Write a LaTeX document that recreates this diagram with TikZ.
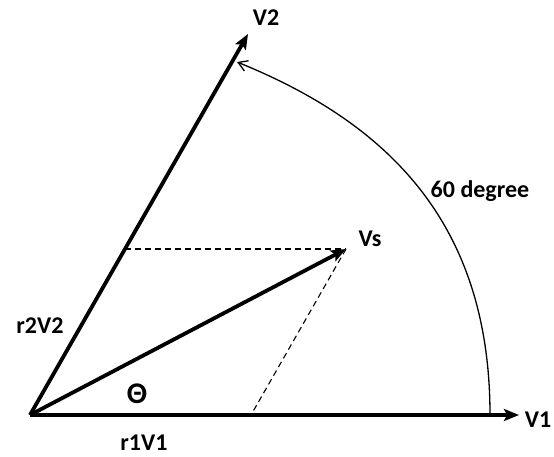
\documentclass[tikz,border=0pt]{standalone}
\usepackage{fontspec}
\setmainfont{Carlito}
\usetikzlibrary{arrows.meta}
\begin{document}
\begin{tikzpicture}[x=1pt,y=-1pt,
  vec/.style={line width=3.8pt,-{Stealth[length=15pt,width=12pt,inset=3pt]}},
  helper/.style={line width=1.1pt,dash pattern=on 6pt off 4pt},
  arcline/.style={line width=1.3pt,-{Straight Barb[length=9pt,width=11pt]}},
  lbl/.style={font=\bfseries\fontsize{24}{28}\selectfont,inner sep=0pt,anchor=base}]
\useasboundingbox (0,0) rectangle (554,457);
\coordinate (O) at (30,415);
\coordinate (A) at (519,415);
\coordinate (B) at (248,34);
\coordinate (S) at (346,249);
\coordinate (H) at (125,249);
\coordinate (F) at (251,415);
\coordinate (E0) at (490,415);
\coordinate (E1) at (237,62);
\draw[helper] (H) -- (S);
\draw[helper] (S) -- (F);
\draw[arcline] (E0) .. controls (490,225) and (390,124) .. (E1);
\draw[vec] (O) -- (A);
\draw[vec] (O) -- (B);
\draw[vec] (O) -- (S);
\node[lbl] (lv1) at (538,427) {V1};
\node[lbl] (lv2) at (266,26) {V2};
\node[lbl] (lvs) at (370,247) {Vs};
\node[lbl] (ldeg) at (480,197) {60 degree};
\node[lbl] (lr2) at (40,333) {r2V2};
\node[lbl,font=\bfseries\fontsize{30}{34}\selectfont] (lth) at (137,403) {Θ};
\node[lbl] (lr1) at (144,450) {r1V1};
\end{tikzpicture}
\end{document}
